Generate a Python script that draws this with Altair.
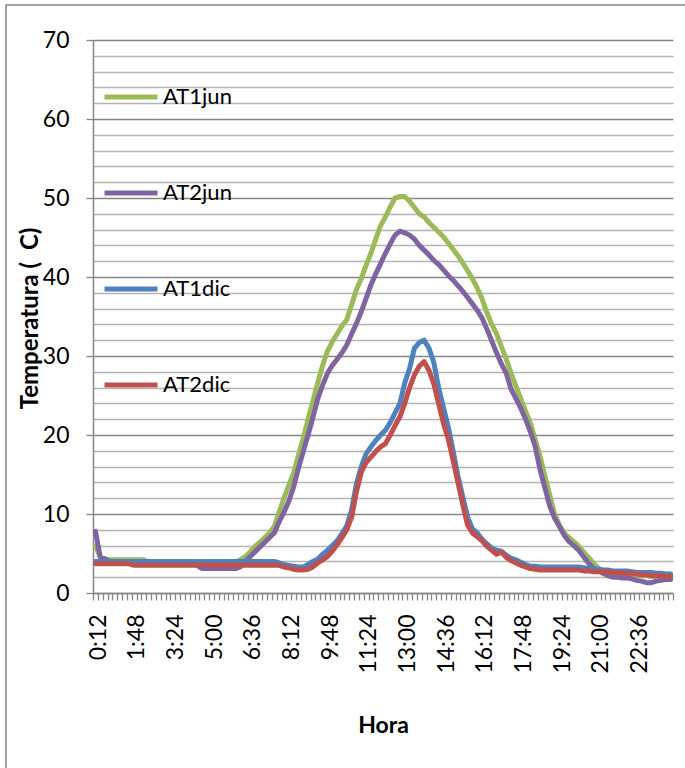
import altair as alt
import pandas as pd

# 120 categories, every 12 minutes from 0:12 to 24:00
horas = [f"{((i + 1) * 12) // 60}:{((i + 1) * 12) % 60:02d}" for i in range(120)]

at1jun = ([6.0, 4.5, 4.3] + [4.2] * 8 + [3.9] * 19 +
          [4.2, 4.6, 5.2, 5.9, 6.4, 7.0, 7.6, 8.4, 10.2, 12.0,
           13.6, 15.2, 17.4, 19.6, 22.0, 24.3, 26.6, 28.8, 30.6, 31.8,
           32.8, 33.8, 34.6, 36.5, 38.4, 39.8, 41.5, 43.0, 44.8, 46.5,
           47.6, 48.9, 50.0, 50.2, 50.2, 49.6, 48.8, 48.0, 47.6, 46.9,
           46.3, 45.7, 45.1, 44.3, 43.5, 42.7, 41.8, 40.8, 39.8, 38.6,
           37.2, 35.5, 34.0, 32.8, 31.2, 29.6, 27.8, 26.2, 24.6, 23.0,
           21.5, 19.4, 17.3, 14.8, 12.4, 10.0, 8.6, 7.6, 7.0, 6.5,
           5.9, 5.2, 4.5, 3.8, 3.2, 2.8, 2.6, 2.5, 2.5, 2.5,
           2.5, 2.3, 2.3, 2.2, 2.2, 2.1, 2.1, 2.1, 2.0, 2.0])

at2jun = ([7.8, 4.6, 4.3] + [4.0] * 18 + [3.5] + [3.1] * 8 +
          [3.3, 4.0, 4.6, 5.2, 5.8, 6.4, 7.0, 7.6, 9.0, 10.2,
           11.6, 13.4, 15.8, 17.9, 20.0, 22.2, 24.6, 26.3, 27.8, 28.8,
           29.6, 30.4, 31.4, 32.8, 34.1, 35.6, 37.3, 39.0, 40.4, 41.7,
           43.0, 44.2, 45.3, 45.8, 45.6, 45.3, 44.8, 44.0, 43.4, 42.8,
           42.1, 41.6, 40.9, 40.2, 39.6, 38.9, 38.2, 37.4, 36.6, 35.8,
           34.8, 33.4, 31.9, 30.4, 29.0, 27.8, 25.8, 24.6, 23.4, 22.0,
           20.4, 18.5, 15.6, 13.3, 11.0, 9.5, 8.4, 7.3, 6.5, 6.0,
           5.4, 4.6, 3.8, 3.1, 2.8, 2.5, 2.2, 2.0, 2.0, 1.9,
           1.9, 1.8, 1.6, 1.5, 1.3, 1.3, 1.5, 1.6, 1.7, 1.7])

at1dic = ([4.0] * 38 +
          [3.8, 3.6, 3.5, 3.4, 3.3, 3.3, 3.6, 4.0, 4.3, 4.9,
           5.4, 6.0, 6.6, 7.5, 8.5, 10.5, 13.8, 16.0, 17.6, 18.5,
           19.3, 20.0, 20.6, 21.6, 22.8, 24.0, 26.6, 28.4, 31.0, 31.7,
           32.0, 31.0, 29.2, 26.0, 23.5, 21.0, 18.0, 14.8, 12.2, 9.6,
           8.1, 7.6, 6.8, 6.2, 5.7, 5.4, 5.3, 4.8, 4.4, 4.2,
           3.9, 3.6, 3.4, 3.4] + [3.3] * 9 +
          [3.2, 3.1, 3.0, 3.0, 2.9, 2.9, 2.8, 2.8, 2.8, 2.8,
           2.7, 2.6, 2.6, 2.6, 2.6, 2.5, 2.5, 2.4, 2.4])

at2dic = ([3.7] * 8 + [3.5] * 31 +
          [3.3, 3.2, 3.0, 2.9, 2.9, 3.0, 3.3, 3.8, 4.2, 4.6,
           5.3, 6.1, 7.0, 8.0, 9.6, 12.8, 15.3, 16.5, 17.2, 17.9,
           18.5, 18.9, 20.0, 21.2, 22.3, 24.0, 26.0, 27.6, 28.7, 29.3,
           28.2, 26.5, 24.0, 21.5, 19.5, 16.8, 14.0, 11.2, 8.6, 7.6,
           7.1, 6.6, 5.9, 5.4, 4.9, 5.2, 4.5, 4.1, 3.8, 3.5,
           3.3, 3.1, 3.0] + [2.9] * 9 +
          [2.8, 2.8, 2.7, 2.7, 2.7, 2.7, 2.6, 2.6, 2.5, 2.5,
           2.5, 2.4, 2.3, 2.3, 2.2, 2.2, 2.2, 2.1, 2.1])

series_names = ["AT1jun", "AT2jun", "AT1dic", "AT2dic"]
series_colors = ["#9BBB59", "#8064A2", "#4F81BD", "#C0504D"]
series_values = [at1jun, at2jun, at1dic, at2dic]

rows = []
for name, vals in zip(series_names, series_values):
    for i, (h, v) in enumerate(zip(horas, vals)):
        rows.append({"serie": name, "idx": i + 0.5, "hora": h, "temp": v})
df = pd.DataFrame(rows)

label_js = "[" + ",".join(f"'{h}'" for h in horas) + "]"
x_label_expr = f"(datum.value % 8 == 0 && datum.value < 120) ? {label_js}[datum.value] : ''"

FONT = "Lato"
GRID_MAJOR = "#868686"
GRID_MINOR = "#B4B4B4"

x_enc = alt.X(
    "idx:Q",
    scale=alt.Scale(domain=[0, 120], nice=False, zero=False),
    axis=alt.Axis(
        values=list(range(0, 121)),
        labelExpr=x_label_expr,
        labelAngle=270,
        labelFontSize=23,
        labelFont=FONT,
        labelColor="black",
        labelPadding=14,
        labelOffset=5,
        labelOverlap=False,
        labelFlush=False,
        tickSize=7,
        tickColor=GRID_MAJOR,
        tickWidth=1.3,
        domainColor=GRID_MAJOR,
        domainWidth=1.5,
        grid=False,
        title="Hora",
        titleFont=FONT,
        titleFontSize=23,
        titleFontWeight="bold",
        titleColor="black",
        titleY=132,
        titleBaseline="middle",
    ),
)

y_enc = alt.Y(
    "temp:Q",
    scale=alt.Scale(domain=[0, 70], nice=False, zero=True),
    axis=alt.Axis(
        values=list(range(0, 71, 2)),
        labelExpr="datum.value % 10 == 0 ? datum.label : ''",
        labelFontSize=23,
        labelFont=FONT,
        labelColor="black",
        labelPadding=17,
        labelOverlap=False,
        labelFlush=False,
        grid=True,
        gridColor={"condition": {"test": "datum.value % 10 == 0", "value": GRID_MAJOR},
                   "value": GRID_MINOR},
        gridWidth=1.3,
        tickSize=7,
        tickColor=GRID_MAJOR,
        tickWidth=1.3,
        tickOpacity={"condition": {"test": "datum.value % 10 == 0", "value": 1}, "value": 0},
        domainColor=GRID_MAJOR,
        domainWidth=1.5,
        title="Temperatura (\u00a0 C)",
        titleFont=FONT,
        titleFontSize=24,
        titleFontWeight="bold",
        titleColor="black",
        titleAngle=270,
        titleX=-63,
        titleY=278,
        titleAlign="center",
        titleBaseline="middle",
    ),
)

color_enc = alt.Color(
    "serie:N",
    scale=alt.Scale(domain=series_names, range=series_colors),
    legend=alt.Legend(
        orient="none",
        legendX=9,
        legendY=28,
        title=None,
        symbolType="stroke",
        symbolSize=2809,
        symbolStrokeWidth=5,
        labelFontSize=22,
        labelFont=FONT,
        labelColor="black",
        labelOffset=3,
        rowPadding=56,
    ),
)

frame = alt.Chart(alt.Data(values=[{"k": 1}])).mark_rect(
    fillOpacity=0, stroke="#868686", strokeWidth=1.5
).encode(
    x=alt.value(-87), y=alt.value(-35), x2=alt.value(700), y2=alt.value(800)
)

layers = [frame]
for name in series_names:
    layers.append(
        alt.Chart(df).transform_filter(alt.datum.serie == name).mark_line(
            strokeWidth=5, strokeJoin="round", strokeCap="round"
        ).encode(x=x_enc, y=y_enc, color=color_enc)
    )

chart = alt.layer(*layers).properties(
    width=580,
    height=553,
    autosize=alt.AutoSizeParams(type="none"),
    padding={"left": 93, "top": 40, "right": 12, "bottom": 175},
).configure(font=FONT).configure_view(strokeWidth=0)

chart.save("out.html", embed_options={"renderer": "svg", "actions": False})
